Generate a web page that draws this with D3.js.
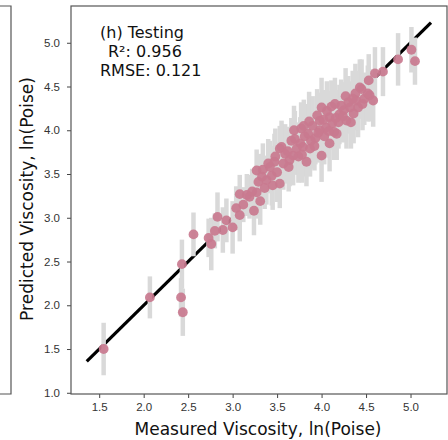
<!DOCTYPE html>
<html>
<head>
<meta charset="utf-8">
<script src="https://cdn.jsdelivr.net/npm/d3@7"></script>
<style>
  body { margin: 0; background: #fff; }
  svg { display: block; font-family: "DejaVu Sans", sans-serif; }
</style>
</head>
<body>
<div id="chart"></div>
<script>
// measured / predicted ln(Poise) and half-length of the uncertainty bar
const measured = [
  1.55, 2.07, 2.43, 2.42, 2.44,
  2.56, 2.73, 2.76, 2.83, 2.93, 3.00, 2.89, 2.80,
  3.04, 3.08, 3.08, 3.24, 3.19, 3.27, 3.16, 3.31, 3.12, 3.22,
  3.29, 3.27, 3.34, 3.44, 3.53, 3.47, 3.57, 3.53, 3.59, 3.38, 3.36, 3.42, 3.50, 3.45, 3.55, 3.33, 3.48, 3.40,
  3.68, 3.64, 3.79, 3.83, 3.87, 3.76, 3.77, 3.85, 3.62, 3.70, 3.72, 3.66, 3.81, 3.74, 3.88, 3.69, 3.80, 3.86, 3.63, 3.78,
  3.90, 3.98, 4.09, 4.05, 4.17, 4.00, 4.00, 4.15, 3.98, 4.09, 4.20, 3.93, 4.03, 4.12, 4.06, 3.95, 4.14, 4.19, 3.92, 4.02, 4.08, 4.16, 4.11, 3.96,
  4.28, 4.33, 4.41, 4.48, 4.43, 4.54, 4.45, 4.58, 4.52, 4.32, 4.39, 4.53, 4.25, 4.30, 4.36, 4.22, 4.27, 4.46, 4.38, 4.24, 4.35,
  4.60, 4.69, 4.86, 5.01, 5.05
];
const predicted = [
  1.50, 2.09, 2.47, 2.09, 1.92,
  2.81, 2.77, 2.70, 3.01, 2.97, 2.89, 2.86, 2.85,
  3.11, 3.03, 3.27, 3.08, 3.24, 3.29, 3.26, 3.19, 3.15, 3.30,
  3.41, 3.54, 3.55, 3.48, 3.39, 3.64, 3.62, 3.79, 3.73, 3.43, 3.34, 3.58, 3.52, 3.37, 3.81, 3.47, 3.70, 3.62,
  3.71, 3.66, 3.81, 3.64, 3.79, 3.85, 4.02, 3.96, 3.76, 3.90, 3.79, 3.88, 3.93, 3.70, 3.88, 4.00, 4.05, 4.10, 3.58, 3.72,
  4.05, 4.00, 3.85, 4.03, 3.96, 3.71, 4.26, 4.30, 4.11, 4.15, 4.18, 3.91, 3.93, 4.08, 4.22, 4.17, 3.98, 4.09, 3.82, 4.12, 3.99, 4.14, 4.27, 3.97,
  4.11, 4.09, 4.26, 4.36, 4.49, 4.40, 4.47, 4.34, 4.42, 4.26, 4.34, 4.57, 4.23, 4.32, 4.19, 4.28, 4.39, 4.30, 4.42, 4.16, 4.36,
  4.65, 4.67, 4.81, 4.92, 4.79
];
const uncertainty = [
  0.30, 0.24, 0.28, 0.22, 0.27,
  0.25, 0.22, 0.30, 0.28, 0.25, 0.30, 0.26, 0.20,
  0.25, 0.30, 0.22, 0.28, 0.25, 0.30, 0.24, 0.27, 0.20, 0.26,
  0.32, 0.24, 0.30, 0.34, 0.28, 0.32, 0.30, 0.26, 0.34, 0.28, 0.24, 0.30, 0.34, 0.28, 0.30, 0.26, 0.32, 0.28,
  0.34, 0.30, 0.34, 0.28, 0.32, 0.30, 0.30, 0.34, 0.28, 0.32, 0.30, 0.26, 0.34, 0.30, 0.32, 0.28, 0.30, 0.34, 0.28, 0.32,
  0.34, 0.30, 0.32, 0.34, 0.30, 0.30, 0.34, 0.30, 0.32, 0.30, 0.34, 0.30, 0.32, 0.30, 0.34, 0.30, 0.32, 0.30, 0.28, 0.34, 0.30, 0.32, 0.30, 0.34,
  0.32, 0.30, 0.34, 0.30, 0.32, 0.30, 0.34, 0.30, 0.32, 0.30, 0.34, 0.30, 0.32, 0.30, 0.34, 0.30, 0.32, 0.30, 0.34, 0.30, 0.32,
  0.30, 0.28, 0.30, 0.26, 0.27
];
const idealLine = [1.36, 5.23];
const xTicks = [1.5, 2.0, 2.5, 3.0, 3.5, 4.0, 4.5, 5.0];
const yTicks = [1.0, 1.5, 2.0, 2.5, 3.0, 3.5, 4.0, 4.5, 5.0];
const statsLines = ["(h) Testing", "R²: 0.956", "RMSE: 0.121"];

const points = measured.map((m, i) => ({ x: m, y: predicted[i], err: uncertainty[i] }));

const W = 448, H = 440;
const margin = { top: 6, right: 1, bottom: 46, left: 71 };
const width = W - margin.left - margin.right;
const height = H - margin.top - margin.bottom;

const svg = d3.select("#chart").append("svg")
  .attr("width", W)
  .attr("height", H);

// edge of the neighbouring panel on the left
svg.append("path")
  .attr("d", `M0,${margin.top}H11V${margin.top + height}H0`)
  .attr("fill", "none")
  .attr("stroke", "#555")
  .attr("stroke-width", 1.2);

const g = svg.append("g")
  .attr("transform", `translate(${margin.left},${margin.top})`);

const xScale = d3.scaleLinear().domain([1.183, 5.41]).range([0, width]);
const yScale = d3.scaleLinear().domain([0.986, 5.42]).range([height, 0]);

// ideal y = x line
g.append("line")
  .attr("x1", xScale(idealLine[0])).attr("y1", yScale(idealLine[0]))
  .attr("x2", xScale(idealLine[1])).attr("y2", yScale(idealLine[1]))
  .attr("stroke", "#000")
  .attr("stroke-width", 3.2);

g.selectAll(".err")
  .data(points)
  .enter()
  .append("line")
  .attr("class", "err")
  .attr("x1", d => xScale(d.x)).attr("x2", d => xScale(d.x))
  .attr("y1", d => yScale(d.y - d.err)).attr("y2", d => yScale(d.y + d.err))
  .attr("stroke", "#d9d9d9")
  .attr("stroke-width", 4.5);

g.selectAll(".dot")
  .data(points)
  .enter()
  .append("circle")
  .attr("class", "dot")
  .attr("cx", d => xScale(d.x))
  .attr("cy", d => yScale(d.y))
  .attr("r", 4.9)
  .style("fill", "#c9798f")
  .style("opacity", 0.92);

// axes
const xAxis = d3.axisBottom(xScale).tickValues(xTicks).tickFormat(d3.format(".1f")).tickSize(4).tickPadding(5);
const yAxis = d3.axisLeft(yScale).tickValues(yTicks).tickFormat(d3.format(".1f")).tickSize(4).tickPadding(7);

const gx = g.append("g")
  .attr("transform", `translate(0,${height})`)
  .call(xAxis);
const gy = g.append("g").call(yAxis);

[gx, gy].forEach(a => {
  a.select(".domain").remove();
  a.selectAll(".tick line").attr("stroke", "#444");
  a.selectAll(".tick text").attr("fill", "#333").style("font-size", "11.5px");
});

// frame
g.append("rect")
  .attr("width", width)
  .attr("height", height)
  .attr("fill", "none")
  .attr("stroke", "#555")
  .attr("stroke-width", 1.2);

// stats text
const stats = g.append("text")
  .attr("x", 29)
  .attr("y", 32)
  .attr("fill", "#111")
  .style("font-size", "16px");
stats.selectAll("tspan")
  .data(statsLines)
  .enter()
  .append("tspan")
  .attr("x", (d, i) => i === 1 ? 37 : 29)
  .attr("dy", (d, i) => i === 0 ? 0 : 19)
  .text(d => d);

// axis labels
svg.append("text")
  .attr("text-anchor", "middle")
  .attr("x", 258)
  .attr("y", 435)
  .attr("fill", "#111")
  .style("font-size", "17px")
  .text("Measured Viscosity, ln(Poise)");

svg.append("text")
  .attr("text-anchor", "middle")
  .attr("transform", "rotate(-90)")
  .attr("x", -199)
  .attr("y", 33)
  .attr("fill", "#111")
  .style("font-size", "17px")
  .text("Predicted Viscosity, ln(Poise)");
</script>
</body>
</html>
